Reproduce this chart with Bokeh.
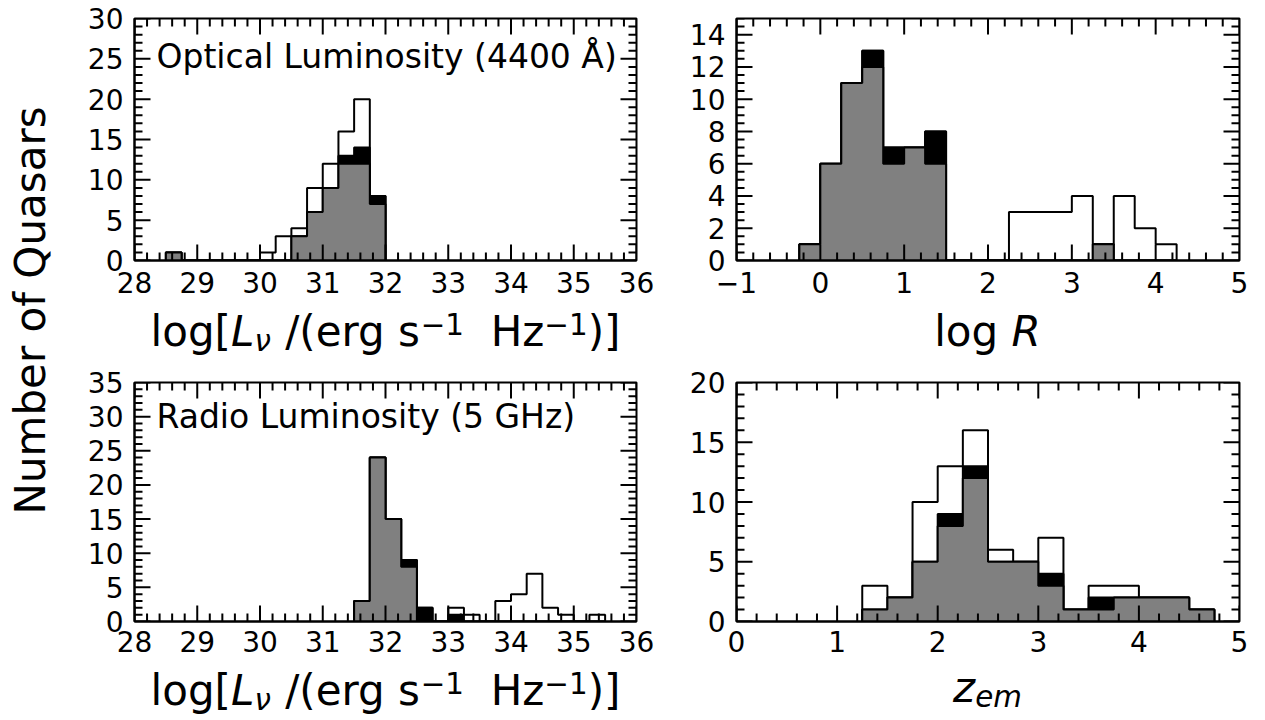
import math
from bokeh.plotting import figure
from bokeh.models import Range1d, SingleIntervalTicker, Label
from bokeh.layouts import row, column
from bokeh.embed import file_html
from bokeh.resources import INLINE

FONT = "DejaVu Sans"

# ---------------- data (bin left edges, bin width, counts) ----------------
bin_width = 0.25

opt_bins = [28.5, 28.75, 29.0, 29.25, 29.5, 29.75, 30.0, 30.25, 30.5, 30.75, 31.0, 31.25, 31.5, 31.75]
opt_total = [1, 0, 0, 0, 0, 0, 1, 3, 4, 9, 12, 16, 20, 8]
opt_black = [1, 0, 0, 0, 0, 0, 0, 0, 3, 6, 9, 13, 14, 8]
opt_gray = [1, 0, 0, 0, 0, 0, 0, 0, 3, 6, 9, 12, 12, 7]

logr_bins = [-0.25, 0.0, 0.25, 0.5, 0.75, 1.0, 1.25, 1.5, 1.75, 2.0, 2.25, 2.5, 2.75, 3.0, 3.25, 3.5, 3.75, 4.0]
logr_total = [1, 6, 11, 13, 7, 7, 8, 0, 0, 0, 3, 3, 3, 4, 1, 4, 2, 1]
logr_black = [1, 6, 11, 13, 7, 7, 8, 0, 0, 0, 0, 0, 0, 0, 1, 0, 0, 0]
logr_gray = [1, 6, 11, 12, 6, 7, 6, 0, 0, 0, 0, 0, 0, 0, 1, 0, 0, 0]

rad_bins = [31.5, 31.75, 32.0, 32.25, 32.5, 32.75, 33.0, 33.25, 33.5, 33.75, 34.0, 34.25, 34.5, 34.75, 35.0, 35.25]
rad_total = [3, 24, 15, 9, 2, 0, 2, 1, 0, 3, 4, 7, 2, 1, 0, 1]
rad_black = [3, 24, 15, 9, 2, 0, 1, 0, 0, 0, 0, 0, 0, 0, 0, 0]
rad_gray = [3, 24, 15, 8, 0, 0, 0, 0, 0, 0, 0, 0, 0, 0, 0, 0]

z_bins = [1.25, 1.5, 1.75, 2.0, 2.25, 2.5, 2.75, 3.0, 3.25, 3.5, 3.75, 4.0, 4.25, 4.5]
z_total = [3, 2, 10, 13, 16, 6, 5, 7, 1, 3, 3, 2, 2, 1]
z_black = [1, 2, 5, 9, 13, 5, 5, 4, 1, 2, 2, 2, 2, 1]
z_gray = [1, 2, 5, 8, 12, 5, 5, 3, 1, 1, 2, 2, 2, 1]

# axis ranges
opt_xrange, opt_yrange = (28, 36), (0, 30)
logr_xrange, logr_yrange = (-1, 5), (0, 15)
rad_xrange, rad_yrange = (28, 36), (0, 35)
z_xrange, z_yrange = (0, 5), (0, 20)

# ---------------- helpers ----------------
EM = {'l': 0.278, 'o': 0.612, 'g': 0.635, '[': 0.390, ']': 0.390, '(': 0.390, ')': 0.390,
      '/': 0.337, ' ': 0.318, 'e': 0.615, 'r': 0.411, 's': 0.521, 'H': 0.752, 'z': 0.525,
      '−': 0.838, '1': 0.636, 'L': 0.557, 'ν': 0.592, 'R': 0.695, 'm': 0.974}
MID = 0.346  # distance from em-box centre to alphabetic baseline (fraction of font size)


def text_w(t, fs):
    return sum(EM.get(c, 0.6) for c in t) * fs


def step_poly(bins, counts):
    xs, ys = [bins[0]], [0]
    for l, c in zip(bins, counts):
        xs += [l, l + bin_width]
        ys += [c, c]
    xs.append(bins[-1] + bin_width)
    ys.append(0)
    return xs, ys


def tick_values(lo, hi, step, nminor):
    n = int(round((hi - lo) / step))
    major = [lo + i * step for i in range(n + 1)]
    minor = []
    for i in range(n):
        for k in range(1, nminor):
            minor.append(lo + i * step + k * step / nminor)
    return major, minor


def make_panel(width, height, bl, br, bt, bb, xr, yr, xstep, xminor, ystep, yminor, xstand=11):
    p = figure(width=width, height=height, x_range=Range1d(*xr), y_range=Range1d(*yr),
               output_backend="svg", toolbar_location=None,
               min_border_left=bl, min_border_right=br, min_border_top=bt, min_border_bottom=bb)
    p.xgrid.visible = False
    p.ygrid.visible = False
    p.outline_line_color = "black"
    p.outline_line_width = 2
    p.background_fill_color = "white"
    p.border_fill_color = "white"
    p.xaxis.ticker = SingleIntervalTicker(interval=xstep, num_minor_ticks=xminor)
    p.yaxis.ticker = SingleIntervalTicker(interval=ystep, num_minor_ticks=yminor)
    for ax in [p.xaxis[0], p.yaxis[0]]:
        ax.major_tick_in = 0
        ax.major_tick_out = 0
        ax.minor_tick_in = 0
        ax.minor_tick_out = 0
        ax.axis_line_width = 2
        ax.axis_line_color = "black"
        ax.major_label_text_font = FONT
        ax.major_label_text_font_size = "28px"
        ax.major_label_text_color = "black"
    p.xaxis[0].major_label_standoff = xstand
    p.yaxis[0].major_label_standoff = 11

    # inward ticks on all four sides
    fw = width - bl - br
    fh = height - bt - bb
    xmaj, xmin = tick_values(xr[0], xr[1], xstep, xminor)
    ymaj, ymin = tick_values(yr[0], yr[1], ystep, yminor)
    for ticks, length in [(xmaj, 16), (xmin, 8)]:
        d = length / fh * (yr[1] - yr[0])
        p.segment(x0=ticks, x1=ticks, y0=[yr[0]] * len(ticks), y1=[yr[0] + d] * len(ticks),
                  line_color="black", line_width=2)
        p.segment(x0=ticks, x1=ticks, y0=[yr[1]] * len(ticks), y1=[yr[1] - d] * len(ticks),
                  line_color="black", line_width=2)
    for ticks, length in [(ymaj, 16), (ymin, 8)]:
        d = length / fw * (xr[1] - xr[0])
        p.segment(y0=ticks, y1=ticks, x0=[xr[0]] * len(ticks), x1=[xr[0] + d] * len(ticks),
                  line_color="black", line_width=2)
        p.segment(y0=ticks, y1=ticks, x0=[xr[1]] * len(ticks), x1=[xr[1] - d] * len(ticks),
                  line_color="black", line_width=2)
    return p


def draw_hists(p, bins, total, black, gray):
    xs, ys = step_poly(bins, total)
    p.patch(xs, ys, fill_color="white", line_color="black", line_width=2, level="underlay")
    xs, ys = step_poly(bins, black)
    p.patch(xs, ys, fill_color="black", line_color="black", line_width=2, level="underlay")
    xs, ys = step_poly(bins, gray)
    p.patch(xs, ys, fill_color="#808080", line_color="black", line_width=2, level="underlay")


def strip(width, height):
    s = figure(width=width, height=height, x_range=Range1d(0, width), y_range=Range1d(height, 0),
               output_backend="svg", toolbar_location=None, x_axis_location=None,
               y_axis_location=None, min_border=0)
    s.outline_line_color = None
    s.xgrid.visible = False
    s.ygrid.visible = False
    s.background_fill_color = "white"
    s.border_fill_color = "white"
    return s


def rich_label(s, pieces, cx, base_y, fs):
    """pieces: (text, style, scale, raise as fraction of fs); base_y = baseline (strip px)."""
    total = sum(text_w(t, fs * sc) for t, st, sc, dy in pieces)
    x = cx - total / 2
    for t, st, sc, dy in pieces:
        size = fs * sc
        lead = len(t) - len(t.lstrip(' '))
        shown = t.strip(' ')
        px = x + text_w(' ' * lead, size)
        centre = base_y - dy * fs - MID * size
        s.add_layout(Label(x=px, y=centre, text=shown, text_font=FONT,
                           text_font_size=f"{size:.1f}px", text_font_style=st,
                           text_align="left", text_baseline="middle", text_color="black"))
        x += text_w(t, size)


# ---------------- layout geometry (page px, origin top-left) ----------------
# y-label strip: x 0..68 ; left panels x 68..680 ; right panels x 680..1262
# frames: left x 134..636, right x 736..1239 ; top y 18..260, bottom y 382..621
W0, WL, WR = 68, 612, 582
H_P1, H_S1, H_P3, H_S3 = 304, 58, 301, 56

p1 = make_panel(WL, H_P1, 66, 44, 18, 44, opt_xrange, opt_yrange, 1, 5, 5, 5)
p2 = make_panel(WR, H_P1, 56, 23, 18, 44, logr_xrange, logr_yrange, 1, 5, 2, 4)
p3 = make_panel(WL, H_P3, 66, 44, 20, 42, rad_xrange, rad_yrange, 1, 5, 5, 5, xstand=9)
p4 = make_panel(WR, H_P3, 56, 23, 20, 42, z_xrange, z_yrange, 1, 5, 5, 5, xstand=9)
p2.xaxis[0].major_label_overrides = {-1: "−1"}

draw_hists(p1, opt_bins, opt_total, opt_black, opt_gray)
draw_hists(p2, logr_bins, logr_total, logr_black, logr_gray)
draw_hists(p3, rad_bins, rad_total, rad_black, rad_gray)
draw_hists(p4, z_bins, z_total, z_black, z_gray)

# panel titles (left edge at page x 156)
p1.add_layout(Label(x=opt_xrange[0] + (156 - 134) / 502 * 8, y=25.3, text="Optical Luminosity (4400 Å)",
                    text_font=FONT, text_font_size="33px", text_align="left", text_baseline="middle",
                    text_color="black"))
p3.add_layout(Label(x=rad_xrange[0] + (156 - 134) / 502 * 8, y=30, text="Radio Luminosity (5 GHz)",
                    text_font=FONT, text_font_size="33px", text_align="left", text_baseline="middle",
                    text_color="black"))

# x-axis label strips (baselines given in page px)
FS = 42
lum_pieces = [("log[", "normal", 1.0, 0), ("L", "italic", 1.0, 0), ("ν", "italic", 0.7, -0.1),
              (" /(erg s", "normal", 1.0, 0), ("−1", "normal", 0.7, 0.3), ("  Hz", "normal", 1.0, 0),
              ("−1", "normal", 0.7, 0.3), (")]", "normal", 1.0, 0)]
s1 = strip(WL, H_S1)
s2 = strip(WR, H_S1)
s3 = strip(WL, H_S3)
s4 = strip(WR, H_S3)
Y_S3 = H_P1 + H_S1 + H_P3
rich_label(s1, lum_pieces, 385 - W0, 346 - H_P1, FS)
rich_label(s3, lum_pieces, 385 - W0, 705 - Y_S3, FS)
rich_label(s2, [("log ", "normal", 1.0, 0), ("R", "italic", 1.0, 0)], 987 - (W0 + WL), 346 - H_P1, FS)
rich_label(s4, [("z", "italic", 1.0, 0), ("em", "italic", 0.7, -0.1)], 987 - (W0 + WL), 702 - Y_S3, FS)

# y label strip
H_ALL = H_P1 + H_S1 + H_P3 + H_S3
pl = strip(W0, H_ALL)
pl.add_layout(Label(x=30, y=310, text="Number of Quasars", text_font=FONT,
                    text_font_size="42px", angle=math.pi / 2, text_align="center",
                    text_baseline="middle", text_color="black"))

layout = row(pl, column(row(p1, p2), row(s1, s2), row(p3, p4), row(s3, s4)))

with open("out.html", "w") as fh:
    fh.write(file_html(layout, INLINE))
